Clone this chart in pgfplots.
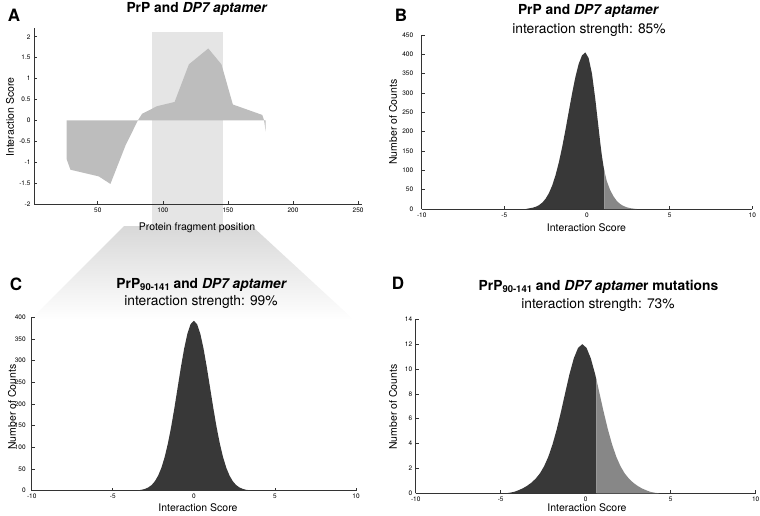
\documentclass[border=0pt]{standalone}
\usepackage{fontspec}
\setmainfont{TeX Gyre Heros}
\usepackage{pgfplots}
\pgfplotsset{compat=1.18}

\definecolor{areagray}{HTML}{BDBDBD}
\definecolor{hlgray}{HTML}{E5E5E5}
\definecolor{fadegray}{HTML}{D8D8D8}
\definecolor{darkfill}{HTML}{383838}
\definecolor{lightfill}{HTML}{878787}

\pgfplotsset{
  panel/.style={
    scale only axis,
    anchor=south west,
    axis lines*=left,
    axis line style={-, black!80, line width=0.6pt},
    tick style={black!80, line width=0.6pt},
    major tick length=3pt,
    tick align=inside,
    tick label style={font=\fontsize{6.5}{7}\selectfont},
    /pgf/number format/assume math mode=true,
    clip=false,
  },
  dist/.style={panel, xmin=-10, xmax=10, ymin=0, xtick={-10,-5,0,5,10}},
}
\newcommand{\ttl}{\fontsize{13.8}{16}\selectfont}
\newcommand{\lbl}{\fontsize{10.5}{12}\selectfont}
\newcommand{\pnl}{\fontsize{17}{19}\selectfont\bfseries}
\newcommand{\sub}[1]{\raisebox{-2.5pt}{\fontsize{9.5}{10}\selectfont #1}}

\begin{document}
\begin{tikzpicture}
\useasboundingbox (0,0) rectangle (760pt,-515pt);

% zoom wedge from panel A down to panel C
\shade[top color=fadegray, bottom color=white]
  (124pt,-226pt) -- (252pt,-226pt) -- (354pt,-320pt) -- (30pt,-320pt) -- cycle;

% ---- A
\begin{axis}[panel, axis on top, at={(34pt,-204pt)}, width=328pt, height=175.6pt,
  xmin=1, xmax=253, ymin=-2, ymax=2.2,
  xtick={50,100,150,200,250}, ytick={-2,-1.5,-1,-0.5,0,0.5,1,1.5,2}]
\addplot[draw=none, fill=hlgray] coordinates {
  (91.7,-2.53) (91.7,2.12) (146.2,2.12) (146.2,-2.53)};
\addplot[draw=none, fill=areagray] coordinates {
  (26,0) (26,-0.92) (29,-1.18) (50.8,-1.34) (59.7,-1.52) (71.3,-0.6)
  (80.8,0) (84.1,0.16) (95.6,0.34) (109,0.44) (120,1.34) (134.9,1.72)
  (145,1.34) (153.8,0.38) (176.4,0.13) (177.8,0) (179,-0.27) (179,0)};
\end{axis}

% ---- B
\begin{axis}[dist, at={(421.7pt,-209pt)}, width=330.6pt, height=174pt,
  ymax=450, ytick={0,50,...,450}, yticklabel style={xshift=-5pt}]
\addplot[draw=none, fill=darkfill] coordinates {
  (-3.7,0) (-3.5,1.7) (-3.3,3.2) (-3.1,5.8) (-2.9,10.1) (-2.7,16.7) (-2.5,26.8)
  (-2.3,41.4) (-2.1,61.5) (-1.9,88.0) (-1.7,121.2) (-1.5,160.8) (-1.3,205.5)
  (-1.1,252.8) (-0.9,299.5) (-0.7,341.8) (-0.5,375.6) (-0.3,397.4) (-0.1,405)
  (0.1,390) (0.3,350) (0.5,285) (0.7,210) (0.8,172) (0.9,138) (1.0,110)
  (1.05,98) (1.05,0)};
\addplot[draw=none, fill=lightfill] coordinates {
  (1.05,0) (1.05,98) (1.2,72) (1.4,49) (1.6,33) (1.8,21) (2.0,13) (2.2,8)
  (2.4,4.5) (2.6,2.3) (2.8,1) (3.0,0)};
\end{axis}

% ---- C
\begin{axis}[dist, at={(31.7pt,-490.7pt)}, width=324.3pt, height=173.4pt,
  ymax=400, ytick={0,50,...,400}, yticklabel style={xshift=-2.5pt}]
\addplot[draw=none, fill=darkfill] coordinates {
  (-3.6,0) (-3.4,1.2) (-3.2,2.3) (-3.0,4.4) (-2.8,7.8) (-2.6,13.3) (-2.4,22.0)
  (-2.2,34.9) (-2.0,53.0) (-1.8,77.6) (-1.6,109.0) (-1.4,147.1) (-1.2,190.8)
  (-1.0,237.8) (-0.8,284.6) (-0.6,327.4) (-0.4,361.9) (-0.2,384.2) (0,392)
  (0.2,384.2) (0.4,361.9) (0.6,327.4) (0.8,284.6) (1.0,237.8) (1.2,190.8)
  (1.4,147.1) (1.6,109.0) (1.8,77.6) (2.0,53.0) (2.2,34.9) (2.4,22.0)
  (2.6,13.3) (2.8,7.8) (3.0,4.4) (3.2,2.3) (3.4,1.2) (3.6,0)};
\end{axis}

% ---- D
\begin{axis}[dist, at={(415.7pt,-493.3pt)}, width=340pt, height=174pt,
  ymax=14, ytick={0,2,...,14}]
\addplot[draw=none, fill=darkfill] coordinates {
  (-4.7,0) (-4.45,0.05) (-4.2,0.12) (-3.95,0.25) (-3.7,0.4) (-3.45,0.6)
  (-3.2,0.85) (-2.95,1.17) (-2.7,1.59) (-2.45,2.17) (-2.2,2.94) (-1.95,3.94)
  (-1.7,5.17) (-1.45,6.59) (-1.2,8.12) (-0.95,9.61) (-0.7,10.86) (-0.45,11.70)
  (-0.2,12.0) (0.05,11.70) (0.3,10.86) (0.55,9.61) (0.63,9.15) (0.63,0)};
\addplot[draw=none, fill=lightfill] coordinates {
  (0.63,0) (0.63,9.15) (0.8,8.12) (1.05,6.59) (1.3,5.17) (1.55,3.94) (1.8,2.94)
  (2.05,2.17) (2.3,1.59) (2.55,1.17) (2.8,0.85) (3.05,0.6) (3.3,0.4)
  (3.55,0.25) (3.8,0.12) (4.05,0.05) (4.3,0)};
\end{axis}

% titles and labels
\node[anchor=base, font=\pnl] at (14pt,-21pt) {A};
\node[anchor=base, font=\pnl] at (401pt,-21pt) {B};
\node[anchor=base, font=\pnl] at (16pt,-290pt) {C};
\node[anchor=base, font=\pnl] at (398pt,-289pt) {D};

\node[anchor=base, font=\ttl\bfseries] at (197pt,-12.3pt) {PrP and \textit{DP7 aptamer}};
\node[anchor=base, font=\ttl\bfseries] at (588.5pt,-14pt) {PrP and \textit{DP7 aptamer}};
\node[anchor=base, font=\ttl] at (589pt,-33pt) {interaction strength: 85\%};
\node[anchor=base, font=\ttl\bfseries] at (201.7pt,-288.3pt) {PrP\sub{90-141} and \textit{DP7 aptamer}};
\node[anchor=base, font=\ttl] at (201pt,-305pt) {interaction strength: 99\%};
\node[anchor=base, font=\ttl\bfseries] at (598.5pt,-290pt) {PrP\sub{90-141} and \textit{DP7 aptame}r mutations};
\node[anchor=base, font=\ttl] at (598pt,-308pt) {interaction strength: 73\%};

\node[anchor=base, font=\lbl] at (197pt,-230.5pt) {Protein fragment position};
\node[anchor=base, font=\lbl, rotate=90] at (13.8pt,-117pt) {Interaction Score};
\node[anchor=base, font=\lbl] at (586.5pt,-231pt) {Interaction Score};
\node[anchor=base, font=\lbl, rotate=90] at (396.8pt,-122pt) {Number of Counts};
\node[anchor=base, font=\lbl] at (198pt,-511.8pt) {Interaction Score};
\node[anchor=base, font=\lbl, rotate=90] at (15.8pt,-407pt) {Number of Counts};
\node[anchor=base, font=\lbl] at (587pt,-511pt) {Interaction Score};
\node[anchor=base, font=\lbl, rotate=90] at (396.8pt,-407pt) {Number of Counts};
\end{tikzpicture}
\end{document}
